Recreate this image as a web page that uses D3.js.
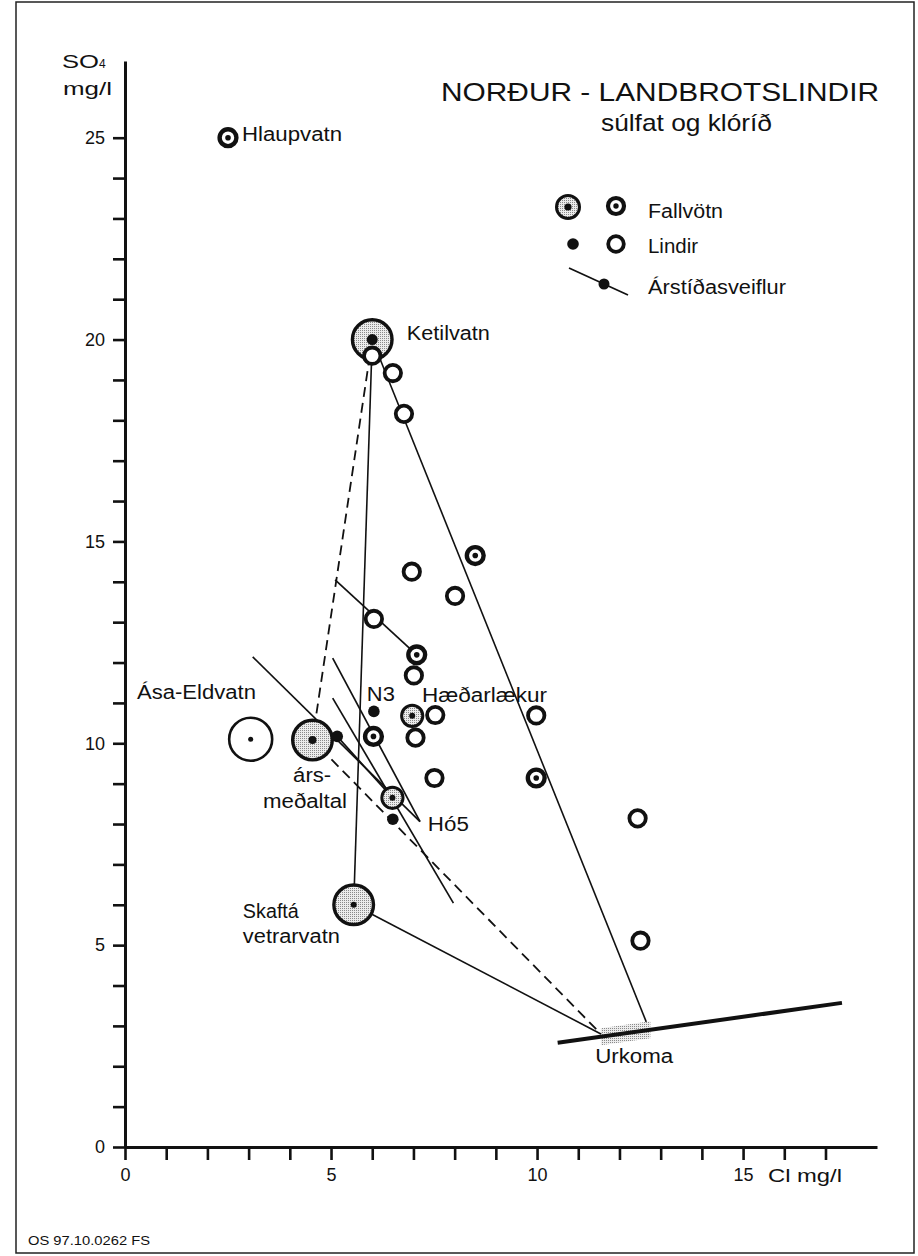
<!DOCTYPE html>
<html>
<head>
<meta charset="utf-8">
<script src="https://cdn.jsdelivr.net/npm/d3@7"></script>
<style>
  body { margin: 0; background: #fff; }
  text { font-family: "Liberation Sans", Arial, sans-serif; fill: #111; }
</style>
</head>
<body>
<div class="chart"></div>
<script>
var width = 918,
    height = 1256;

// DATA  [Cl mg/l, SO4 mg/l]
var bigFallvotn = [[6.0, 20.0], [4.55, 10.08], [5.55, 6.0]];
var bigDotSize = [5.5, 4, 3];
var smallFallvotn = [[6.97, 10.68], [6.49, 8.65]];
var asaEldvatn = [[3.05, 10.1]];
var bullseyes = [[2.5, 25.0], [8.5, 14.65], [7.08, 12.19], [6.03, 10.17], [9.98, 9.14]];
var rings = [[6.0, 19.6], [6.5, 19.17], [6.77, 18.16], [6.96, 14.25], [8.01, 13.65],
             [6.04, 13.08], [7.01, 11.68], [7.53, 10.7], [9.98, 10.69], [7.05, 10.14],
             [7.51, 9.14], [12.44, 8.14], [12.51, 5.11]];
var dots = [[6.04, 10.79], [5.15, 10.17], [6.5, 8.12]];

var mixLines = [
  [[6.0, 20.0], [5.55, 6.0]],
  [[6.0, 20.0], [12.65, 3.1]],
  [[5.55, 6.0], [11.55, 2.8]]
];
var dashedLine = [[6.0, 20.0], [4.55, 10.08], [11.55, 2.8]];
var seasonLines = [
  [[5.1, 14.05], [7.08, 12.19]],
  [[3.1, 12.14], [7.16, 8.06]],
  [[5.04, 12.11], [7.16, 8.06]],
  [[5.04, 11.12], [7.97, 6.04]],
  [[5.15, 10.17], [6.49, 8.65]]
];
var urkomaLine = [[10.5, 2.58], [17.4, 3.57]];
var urkomaBand = [11.55, 12.75];

// label text, Cl, SO4 (left / baseline), width in px
var labels = [
  ['Hlaupvatn', 2.84, 24.93, 100],
  ['Ketilvatn', 6.84, 19.99, 83],
  ['Ása-Eldvatn', 0.29, 11.1, 119],
  ['N3', 5.87, 11.05, 28],
  ['Hæðarlækur', 7.21, 11.03, 125],
  ['árs-', 4.08, 9.04, 38],
  ['meðaltal', 3.35, 8.4, 84],
  ['Hó5', 7.35, 7.83, 41],
  ['Skaftá', 2.86, 5.67, 56],
  ['vetrarvatn', 2.86, 5.05, 97],
  ['Urkoma', 11.41, 2.08, 78]
];

var xTicks = d3.range(0, 18);
var yTicks = d3.range(0, 26);
var labelledTicks = [0, 5, 10, 15, 20, 25];

var svg = d3.select('.chart')
  .append('svg')
  .attr('width', width)
  .attr('height', height);

// stipple fill for the shaded symbols
var defs = svg.append('defs');
var pat = defs.append('pattern')
  .attr('id', 'stipple')
  .attr('patternUnits', 'userSpaceOnUse')
  .attr('width', 2)
  .attr('height', 2);
pat.append('rect').attr('width', 2).attr('height', 2).attr('fill', '#ececec');
pat.append('rect').attr('width', 1).attr('height', 1).attr('fill', '#8a8a8a');

// FRAME
svg.append('rect')
  .attr('x', 16).attr('y', 2)
  .attr('width', 898).attr('height', 1251)
  .attr('fill', 'none')
  .attr('stroke', '#222')
  .attr('stroke-width', 1.5);

// SCALES
var xScale = d3.scaleLinear().domain([0, 18.25]).range([125, 877]);
var yScale = d3.scaleLinear().domain([0, 26.9]).range([1147, 61]);

var line = d3.line().x((d) => xScale(d[0])).y((d) => yScale(d[1]));

// AXES
var xAxis = d3.axisBottom(xScale)
  .tickValues(xTicks)
  .tickSize(13)
  .tickSizeOuter(0)
  .tickPadding(8)
  .tickFormat((d) => labelledTicks.indexOf(d) >= 0 ? d : '');
var yAxis = d3.axisLeft(yScale)
  .tickValues(yTicks)
  .tickSize(12)
  .tickSizeOuter(0)
  .tickPadding(8)
  .tickFormat((d) => labelledTicks.indexOf(d) >= 0 ? d : '');

var gx = svg.append('g')
  .attr('transform', 'translate(0,' + yScale(0) + ')')
  .call(xAxis);
var gy = svg.append('g')
  .attr('transform', 'translate(' + xScale(0) + ',0)')
  .call(yAxis);

[gx, gy].forEach((g) => {
  g.attr('font-family', null).attr('font-size', null);
  g.select('.domain').attr('stroke', '#111').attr('stroke-width', 3);
  g.selectAll('.tick line').attr('stroke', '#111').attr('stroke-width', 2.6);
  g.selectAll('.tick text').attr('fill', '#111').style('font-size', '18px');
});

svg.append('text')
  .attr('x', 768).attr('y', 1182)
  .attr('textLength', 74)
  .attr('lengthAdjust', 'spacingAndGlyphs')
  .style('font-size', '18px')
  .text('Cl  mg/l');

var so = svg.append('text')
  .attr('x', 62).attr('y', 68)
  .style('font-size', '19px');
so.append('tspan').attr('textLength', 37).attr('lengthAdjust', 'spacingAndGlyphs').text('SO');
so.append('tspan').style('font-size', '12px').text('4');
svg.append('text')
  .attr('x', 63).attr('y', 95)
  .attr('textLength', 49)
  .attr('lengthAdjust', 'spacingAndGlyphs')
  .style('font-size', '19px')
  .text('mg/l');

// URKOMA
var bandPts = [
  [urkomaBand[0], 0], [urkomaBand[1], 0], [urkomaBand[1], 1], [urkomaBand[0], 1]
].map((p) => {
  var t = (p[0] - urkomaLine[0][0]) / (urkomaLine[1][0] - urkomaLine[0][0]);
  var yy = urkomaLine[0][1] + t * (urkomaLine[1][1] - urkomaLine[0][1]);
  return [xScale(p[0]), yScale(yy + (p[1] ? -0.21 : 0.21))];
});
svg.append('polygon')
  .attr('points', bandPts.map((p) => p.join(',')).join(' '))
  .attr('fill', 'url(#stipple)');

// LINES
svg.selectAll('.mix')
  .data(mixLines)
  .enter()
  .append('path')
  .attr('d', line)
  .attr('fill', 'none')
  .attr('stroke', '#111')
  .attr('stroke-width', 1.6);

svg.append('path')
  .datum(dashedLine)
  .attr('d', line)
  .attr('fill', 'none')
  .attr('stroke', '#111')
  .attr('stroke-width', 1.8)
  .attr('stroke-dasharray', '10,6');

svg.selectAll('.season')
  .data(seasonLines)
  .enter()
  .append('path')
  .attr('d', line)
  .attr('fill', 'none')
  .attr('stroke', '#111')
  .attr('stroke-width', 1.7);

svg.append('path')
  .datum(urkomaLine)
  .attr('d', line)
  .attr('stroke', '#111')
  .attr('stroke-width', 4);

// POINTS
svg.selectAll('.asa')
  .data(asaEldvatn)
  .enter()
  .append('circle')
  .attr('cx', (d) => xScale(d[0]))
  .attr('cy', (d) => yScale(d[1]))
  .attr('r', 21.5)
  .attr('fill', '#fff')
  .attr('stroke', '#111')
  .attr('stroke-width', 2.6);

svg.selectAll('.big')
  .data(bigFallvotn)
  .enter()
  .append('circle')
  .attr('cx', (d) => xScale(d[0]))
  .attr('cy', (d) => yScale(d[1]))
  .attr('r', 19.8)
  .attr('fill', 'url(#stipple)')
  .attr('stroke', '#111')
  .attr('stroke-width', 3.4);

svg.selectAll('.small')
  .data(smallFallvotn)
  .enter()
  .append('circle')
  .attr('cx', (d) => xScale(d[0]))
  .attr('cy', (d) => yScale(d[1]))
  .attr('r', 10.6)
  .attr('fill', 'url(#stipple)')
  .attr('stroke', '#111')
  .attr('stroke-width', 3);

svg.selectAll('.ring')
  .data(rings)
  .enter()
  .append('circle')
  .attr('cx', (d) => xScale(d[0]))
  .attr('cy', (d) => yScale(d[1]))
  .attr('r', 8.2)
  .attr('fill', '#fff')
  .attr('stroke', '#111')
  .attr('stroke-width', 3.8);

svg.selectAll('.bull')
  .data(bullseyes)
  .enter()
  .append('circle')
  .attr('cx', (d) => xScale(d[0]))
  .attr('cy', (d) => yScale(d[1]))
  .attr('r', 8.4)
  .attr('fill', '#fff')
  .attr('stroke', '#111')
  .attr('stroke-width', 4.4);

// centre dots
var centres = bullseyes.map((d) => [d[0], d[1], 2.8])
  .concat(smallFallvotn.map((d) => [d[0], d[1], 3]))
  .concat(bigFallvotn.map((d, i) => [d[0], d[1], bigDotSize[i]]))
  .concat(asaEldvatn.map((d) => [d[0], d[1], 2.5]))
  .concat(dots.map((d) => [d[0], d[1], 5.8]));

svg.selectAll('.dot')
  .data(centres)
  .enter()
  .append('circle')
  .attr('cx', (d) => xScale(d[0]))
  .attr('cy', (d) => yScale(d[1]))
  .attr('r', (d) => d[2])
  .attr('fill', '#111');

// LABELS
svg.selectAll('.lbl')
  .data(labels)
  .enter()
  .append('text')
  .attr('x', (d) => xScale(d[1]))
  .attr('y', (d) => yScale(d[2]))
  .attr('textLength', (d) => d[3])
  .attr('lengthAdjust', 'spacingAndGlyphs')
  .style('font-size', '20px')
  .text((d) => d[0]);

// TITLE
svg.append('text')
  .attr('x', 441).attr('y', 101)
  .attr('textLength', 438)
  .attr('lengthAdjust', 'spacingAndGlyphs')
  .style('font-size', '25px')
  .text('NORÐUR - LANDBROTSLINDIR');
svg.append('text')
  .attr('x', 601).attr('y', 131)
  .attr('textLength', 171)
  .attr('lengthAdjust', 'spacingAndGlyphs')
  .style('font-size', '24px')
  .text('súlfat og klóríð');

// LEGEND
var legend = svg.append('g');
legend.append('circle').attr('cx', 568).attr('cy', 207).attr('r', 11.5)
  .attr('fill', 'url(#stipple)').attr('stroke', '#111').attr('stroke-width', 3);
legend.append('circle').attr('cx', 568).attr('cy', 207).attr('r', 3.6).attr('fill', '#111');
legend.append('circle').attr('cx', 616).attr('cy', 206).attr('r', 8)
  .attr('fill', '#fff').attr('stroke', '#111').attr('stroke-width', 4.2);
legend.append('circle').attr('cx', 616).attr('cy', 206).attr('r', 2.7).attr('fill', '#111');
legend.append('circle').attr('cx', 573).attr('cy', 244).attr('r', 5.8).attr('fill', '#111');
legend.append('circle').attr('cx', 616).attr('cy', 244).attr('r', 7.8)
  .attr('fill', '#fff').attr('stroke', '#111').attr('stroke-width', 3.8);
legend.append('line').attr('x1', 569).attr('y1', 268).attr('x2', 628).attr('y2', 295)
  .attr('stroke', '#111').attr('stroke-width', 1.7);
legend.append('circle').attr('cx', 604).attr('cy', 284).attr('r', 5.5).attr('fill', '#111');

var legendText = [['Fallvötn', 218, 75], ['Lindir', 253, 50], ['Árstíðasveiflur', 294, 138]];
legend.selectAll('text')
  .data(legendText)
  .enter()
  .append('text')
  .attr('x', 648)
  .attr('y', (d) => d[1])
  .attr('textLength', (d) => d[2])
  .attr('lengthAdjust', 'spacingAndGlyphs')
  .style('font-size', '20px')
  .text((d) => d[0]);

// FOOTNOTE
svg.append('text')
  .attr('x', 28).attr('y', 1245)
  .attr('textLength', 122)
  .attr('lengthAdjust', 'spacingAndGlyphs')
  .style('font-size', '13px')
  .text('OS 97.10.0262 FS');
</script>
</body>
</html>
